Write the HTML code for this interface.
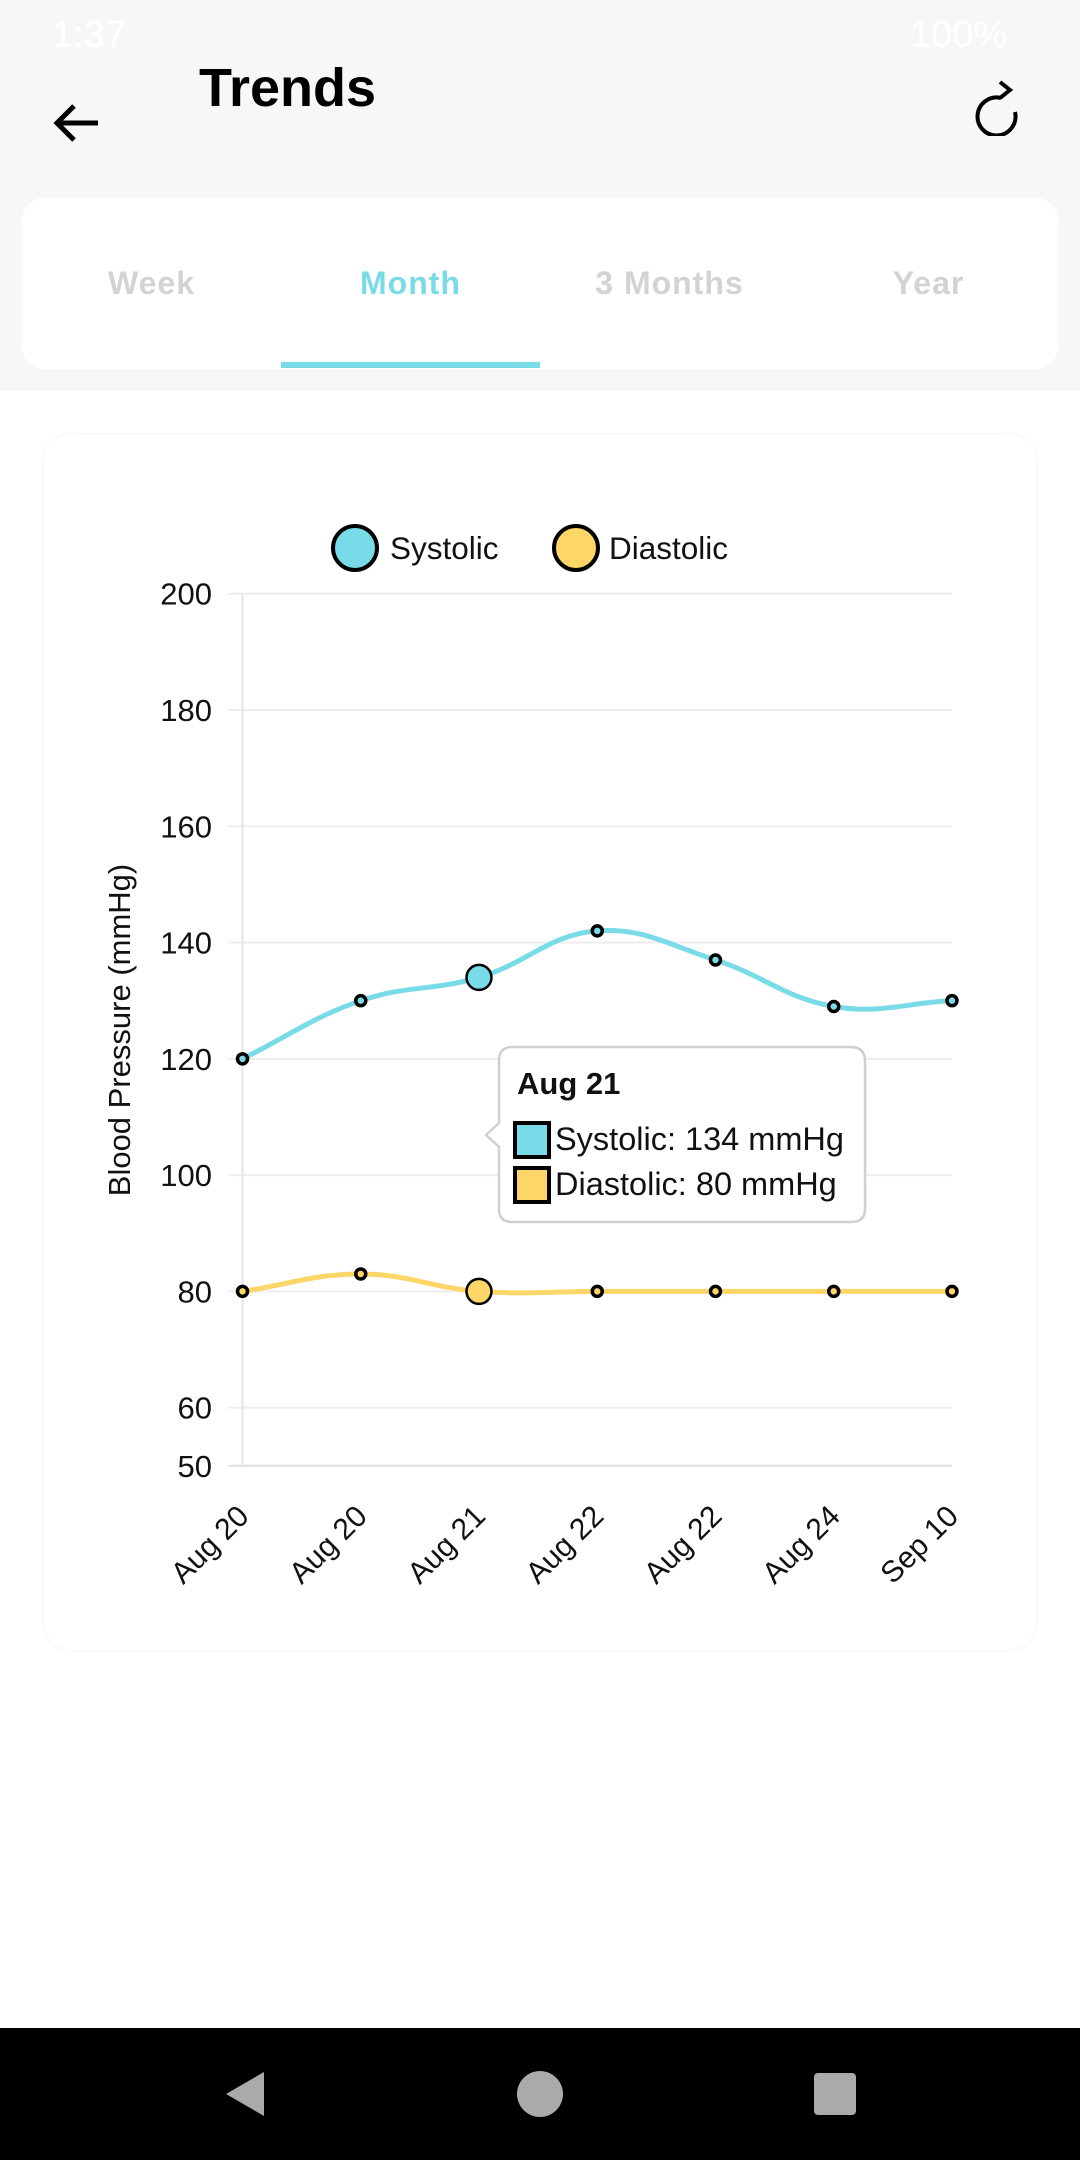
<!DOCTYPE html>
<html><head><meta charset="utf-8">
<style>
html,body{margin:0;padding:0;width:1080px;height:2160px;overflow:hidden;background:#fff;font-family:"Liberation Sans",sans-serif;}
.abs{position:absolute;}
</style></head>
<body>
<div class="abs" style="left:0;top:0;width:1080px;height:391px;background:#f7f7f7;"></div>
<div class="abs" style="left:52px;top:14px;font-size:38px;color:#fff;">1:37</div>
<div class="abs" style="left:910px;top:14px;font-size:38px;color:#fff;">100%</div>
<svg class="abs" style="left:50px;top:96px" width="54" height="54" viewBox="0 0 54 54"><path d="M48 27H8M24 10L7 27L24 44" stroke="#000" stroke-width="5" fill="none"/></svg>
<div class="abs" style="left:199px;top:57px;font-size:54px;font-weight:bold;color:#000;">Trends</div>
<svg class="abs" style="left:975px;top:76px" width="56" height="60" viewBox="0 0 56 60"><path d="M38 26A19 19 0 1 1 24 12" stroke="#000" stroke-width="4" fill="none" transform="translate(2,10)"/><path d="M21 6L31 14L21 22" stroke="#000" stroke-width="4" fill="none" transform="translate(4,0)"/></svg>
<div class="abs" style="left:22px;top:198px;width:1036px;height:171px;background:#fff;border-radius:22px;"></div>
<div class="abs" style="left:22px;top:265px;width:259px;text-align:center;font-size:32px;font-weight:bold;color:#d3d3d3;letter-spacing:1px;">Week</div>
<div class="abs" style="left:281px;top:265px;width:259px;text-align:center;font-size:32px;font-weight:bold;color:#79dbe8;letter-spacing:1px;">Month</div>
<div class="abs" style="left:540px;top:265px;width:259px;text-align:center;font-size:32px;font-weight:bold;color:#d3d3d3;letter-spacing:1px;">3 Months</div>
<div class="abs" style="left:799px;top:265px;width:259px;text-align:center;font-size:32px;font-weight:bold;color:#d3d3d3;letter-spacing:1px;">Year</div>
<div class="abs" style="left:281px;top:362px;width:259px;height:6px;background:#79dbe8;"></div>
<div class="abs" style="left:44px;top:435px;width:992px;height:1215px;background:#fff;border-radius:28px;box-shadow:0 0 6px rgba(0,0,0,0.06);"></div>
<svg class="abs" id="chart" style="left:0;top:0" width="1080" height="1700"></svg>
<div class="abs" style="left:0;top:2028px;width:1080px;height:132px;background:#000;"></div>
<svg class="abs" style="left:222px;top:2070px" width="48" height="48"><polygon points="42,2 42,46 4,24" fill="#aaa"/></svg>
<div class="abs" style="left:517px;top:2071px;width:46px;height:46px;border-radius:50%;background:#aaa;"></div>
<div class="abs" style="left:814px;top:2073px;width:42px;height:42px;border-radius:4px;background:#aaa;"></div>
<script>
const labels = ["Aug 20","Aug 20","Aug 21","Aug 22","Aug 22","Aug 24","Sep 10"];
const systolic = [120,130,134,142,137,129,130];
const diastolic = [80,83,80,80,80,80,80];
const yTicks = [50,60,80,100,120,140,160,180,200];
const highlightIndex = 2;

const NS="http://www.w3.org/2000/svg";
const svg=document.getElementById('chart');
const X0=242.5,X1=952,YTOP=593.7,YBOT=1465.8,VMIN=50,VMAX=200;
function xs(i){return X0+(X1-X0)*i/(labels.length-1);}
function ys(v){return YBOT-(v-VMIN)/(VMAX-VMIN)*(YBOT-YTOP);}
function mk(tag,attrs,parent){const e=document.createElementNS(NS,tag);for(const k in attrs)e.setAttribute(k,attrs[k]);(parent||svg).appendChild(e);return e;}

yTicks.forEach(t=>{
  const g=mk('line',{x1:X0-14,x2:X1,y1:ys(t),y2:ys(t),stroke:t===50?'#ddd':'#eeeeee','stroke-width':2});
  
  
  const tx=mk('text',{x:212,y:ys(t)+11,'text-anchor':'end','font-size':31,fill:'#111'});
  tx.textContent=t;
  
  
});
const ax=mk('line',{x1:X0,x2:X0,y1:YTOP,y2:YBOT,stroke:'#e6e6e6','stroke-width':2});



const yt=mk('text',{x:0,y:0,'text-anchor':'middle','font-size':31,fill:'#111',transform:'translate(130,1030) rotate(-90)'});
yt.textContent='Blood Pressure (mmHg)';



labels.forEach((l,i)=>{
  const t=mk('text',{x:0,y:0,'text-anchor':'end','font-size':30,fill:'#111',transform:`translate(${xs(i)+8},${1518}) rotate(-45)`});
  t.textContent=l;
  
  
});

function curve(vals){
  const pts=vals.map((v,i)=>[xs(i),ys(v)]);const T=0.4;
  let d=`M${pts[0][0]},${pts[0][1]}`;
  const cp=pts.map((p,i)=>{
    const pr=pts[Math.max(0,i-1)],nx=pts[Math.min(pts.length-1,i+1)];
    const d01=Math.hypot(p[0]-pr[0],p[1]-pr[1]),d12=Math.hypot(nx[0]-p[0],nx[1]-p[1]);
    const s=d01+d12||1;const fa=T*d01/s,fb=T*d12/s;
    return {p:[p[0]-fa*(nx[0]-pr[0]),p[1]-fa*(nx[1]-pr[1])],n:[p[0]+fb*(nx[0]-pr[0]),p[1]+fb*(nx[1]-pr[1])]};
  });
  for(let i=1;i<pts.length;i++){d+=` C${cp[i-1].n[0]},${cp[i-1].n[1]} ${cp[i].p[0]},${cp[i].p[1]} ${pts[i][0]},${pts[i][1]}`;}
  return d;
}
[[systolic,'#79dbe8','systolic'],[diastolic,'#fdd667','diastolic']].forEach(([vals,col,nm])=>{
  const p=mk('path',{d:curve(vals),stroke:col,'stroke-width':5,fill:'none'});
  
  
  vals.forEach((v,i)=>{
    const big=i===highlightIndex;
    const c=mk('circle',{cx:xs(i),cy:ys(v),r:big?12.5:5,fill:col,stroke:'#000','stroke-width':big?2.5:3.5});
    
    
  });
});

// legend
[[355,'#79dbe8','Systolic',390],[576,'#fdd667','Diastolic',609]].forEach(([cx,col,txt,tx])=>{
  const c=mk('circle',{cx:cx,cy:548,r:22,fill:col,stroke:'#000','stroke-width':4});
  
  
  const t=mk('text',{x:tx,y:559,'font-size':31.5,fill:'#111'});
  t.textContent=txt;
  
  
});

// tooltip
const tg=mk('g',{});


mk('path',{d:'M512,1047 H851 Q865,1047 865,1061 V1209 Q865,1222 851,1222 H512 Q499,1222 499,1209 V1147 L486,1135 L499,1123 V1061 Q499,1047 512,1047 Z',fill:'#fff',stroke:'#d0d0d0','stroke-width':2.5},tg);
const tt=mk('text',{x:517,y:1094,'font-size':31,'font-weight':'bold',fill:'#111'},tg);
tt.textContent=labels[highlightIndex];
[[systolic,'#79dbe8','Systolic',1123,1150],[diastolic,'#fdd667','Diastolic',1168,1195]].forEach(([vals,col,nm,sy,by])=>{
  mk('rect',{x:515,y:sy,width:34,height:34,fill:col,stroke:'#000','stroke-width':4},tg);
  const t=mk('text',{x:555,y:by,'font-size':32.5,fill:'#111'},tg);
  t.textContent=nm+': '+vals[highlightIndex]+' mmHg';
  
  
});
</script>
</body></html>
